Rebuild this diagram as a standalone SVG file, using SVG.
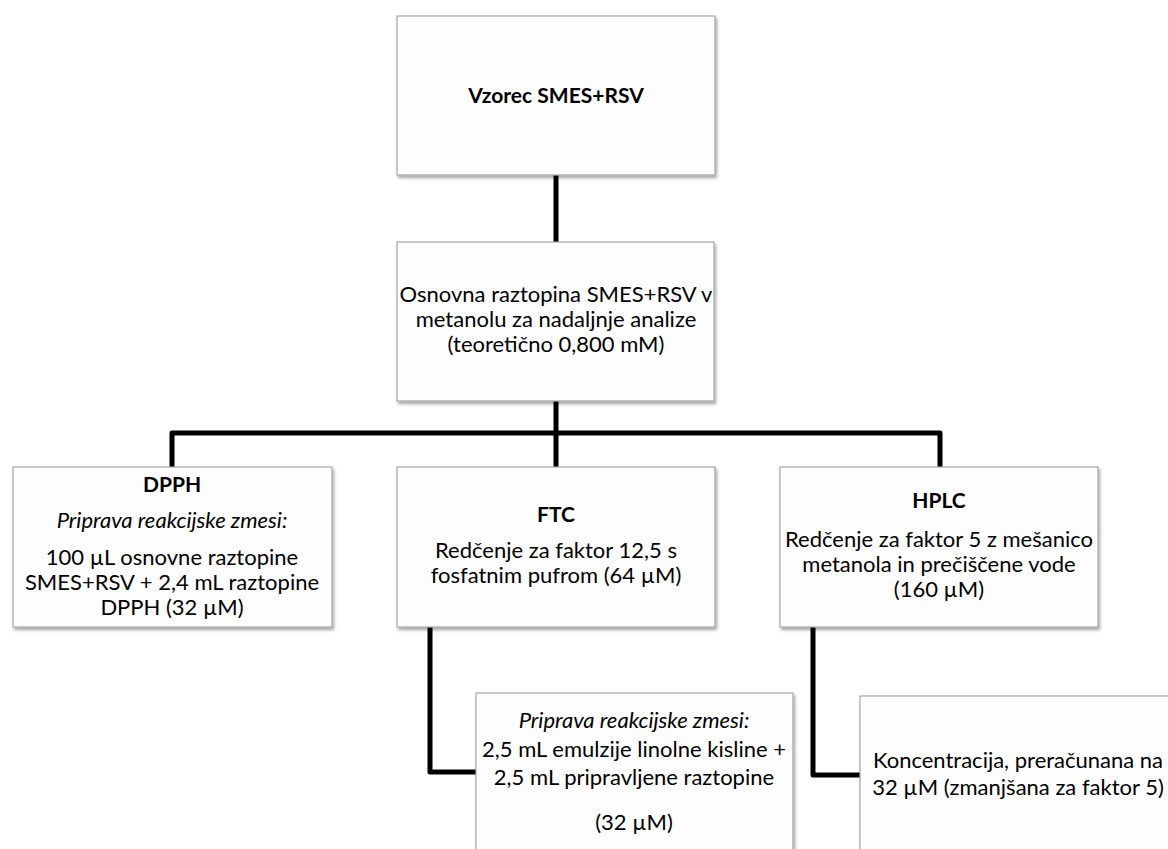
<svg xmlns="http://www.w3.org/2000/svg" width="1168" height="849" viewBox="0 0 1168 849">
<defs>
<filter id="sh" x="-5%" y="-5%" width="110%" height="115%">
<feDropShadow dx="1.5" dy="2.5" stdDeviation="1.5" flood-color="#000" flood-opacity="0.35"/>
</filter>
<style>
.box{fill:#fdfdfd;stroke:#a6a6a6;stroke-width:1.2;filter:url(#sh)}
.t{font-family:Lato,"Liberation Sans",sans-serif;font-size:22px;fill:#000;text-anchor:middle}
.b{font-weight:bold;font-size:21px}
.i{font-style:italic}
.c{fill:none;stroke:#000;stroke-width:5;stroke-linejoin:round;stroke-linecap:butt}
</style>
</defs>
<rect width="1168" height="849" fill="#fff"/>
<g id="connectors">
<path class="c" d="M556 175 V242"/>
<path class="c" d="M556 401 V467"/>
<path class="c" d="M172 467 V433 H940 V467"/>
<path class="c" d="M430 627 V772 H476"/>
<path class="c" d="M813 627 V775 H860"/>
</g>
<g id="sample">
<rect class="box" x="397" y="16" width="318" height="159"/>
<text class="t b" x="556" y="103">Vzorec SMES+RSV</text>
</g>
<g id="stock">
<rect class="box" x="397" y="242" width="317" height="159"/>
<text class="t" x="556" y="302">Osnovna raztopina SMES+RSV v</text>
<text class="t" x="556" y="327">metanolu za nadaljnje analize</text>
<text class="t" x="556" y="352">(teoretično 0,800 mM)</text>
</g>
<g id="dpph">
<rect class="box" x="13" y="467" width="319" height="160"/>
<text class="t b" x="172" y="492">DPPH</text>
<text class="t i" x="172" y="528">Priprava reakcijske zmesi:</text>
<text class="t" x="172" y="565">100 µL osnovne raztopine</text>
<text class="t" x="172" y="590">SMES+RSV + 2,4 mL raztopine</text>
<text class="t" x="172" y="615">DPPH (32 µM)</text>
</g>
<g id="ftc">
<rect class="box" x="397" y="467" width="318" height="160"/>
<text class="t b" x="556" y="522">FTC</text>
<text class="t" x="556" y="558">Redčenje za faktor 12,5 s</text>
<text class="t" x="556" y="583">fosfatnim pufrom (64 µM)</text>
</g>
<g id="hplc">
<rect class="box" x="780" y="467" width="318" height="160"/>
<text class="t b" x="939" y="508">HPLC</text>
<text class="t" x="939" y="547">Redčenje za faktor 5 z mešanico</text>
<text class="t" x="939" y="572">metanola in prečiščene vode</text>
<text class="t" x="939" y="597">(160 µM)</text>
</g>
<g id="ftc-mix">
<rect class="box" x="476" y="693" width="317" height="170"/>
<text class="t i" x="634" y="728">Priprava reakcijske zmesi:</text>
<text class="t" x="634" y="757">2,5 mL emulzije linolne kisline +</text>
<text class="t" x="634" y="785">2,5 mL pripravljene raztopine</text>
<text class="t" x="634" y="830">(32 µM)</text>
</g>
<g id="hplc-conc">
<rect class="box" x="860" y="696" width="318" height="170"/>
<text class="t" x="1018" y="768">Koncentracija, preračunana na</text>
<text class="t" x="1018" y="795">32 µM (zmanjšana za faktor 5)</text>
</g>
</svg>
